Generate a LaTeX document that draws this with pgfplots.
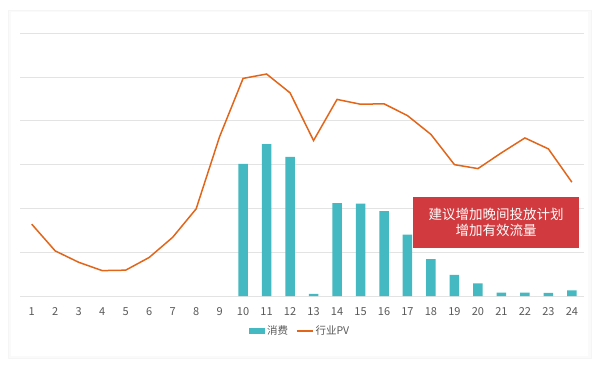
\documentclass[border=0pt]{standalone}
\usepackage{fontspec}
\setmainfont{Noto Sans CJK SC}
\usepackage{pgfplots}
\pgfplotsset{compat=1.18}
\definecolor{barcol}{HTML}{45B9C1}
\definecolor{linecol}{HTML}{E2661A}
\definecolor{gridcol}{HTML}{E3E3E3}
\definecolor{txtcol}{HTML}{595959}
\definecolor{boxcol}{HTML}{D13A3E}
\begin{document}
\begin{tikzpicture}[x=1bp,y=1bp]
\useasboundingbox (0,0) rectangle (600,368);
\fill[white] (0,0) rectangle (600,368);
\fill[black!4] (8,9) rectangle (592,358);
\fill[black!2] (9,10) rectangle (591,357);
\fill[white] (11,12) rectangle (588,356);
\begin{axis}[
  at={(20bp,72bp)}, anchor=south west,
  scale only axis, width=563.6bp, height=262.7bp,
  xmin=0.5, xmax=24.5, ymin=0, ymax=6,
  axis line style={draw=none},
  ytick={1,2,3,4,5,6}, ymajorgrids, yticklabels={},
  grid style={gridcol, line width=0.9bp},
  xtick={1,...,24}, tick style={draw=none},
  major tick length=0pt,
  /pgf/number format/assume math mode=true,
  xticklabel style={font=\fontsize{11bp}{12bp}\selectfont, text=txtcol, yshift=-8bp},
  clip=false,
  legend columns=2,
  legend style={at={(0.497,-0.133)}, anchor=center, draw=none, fill=none,
    font=\fontsize{10.5bp}{12bp}\selectfont, text=txtcol,
    /tikz/every even column/.append style={column sep=6bp},
    inner sep=0pt},
]
\draw[gridcol, line width=0.9bp] (axis cs:0.5,0) -- (axis cs:24.5,0);
\addplot[ybar, bar width=9.5bp, bar shift=0pt, fill=barcol, draw=none,
  legend image code/.code={\fill[barcol] (0bp,-3bp) rectangle (16bp,3bp);}]
coordinates {(10,3.02) (11,3.47) (12,3.18) (13,0.05) (14,2.12) (15,2.11) (16,1.94)
 (17,1.40) (18,0.84) (19,0.48) (20,0.29) (21,0.08) (22,0.08) (23,0.07) (24,0.13)};
\addlegendentry{消费}
\addplot[linecol, line width=1.5bp, mark=none,
  legend image code/.code={\draw[linecol, line width=1.5bp] (0bp,0bp) -- (16bp,0bp);}]
coordinates {(1,1.64) (2,1.03) (3,0.77) (4,0.58) (5,0.59) (6,0.88) (7,1.34) (8,1.99)
 (9,3.64) (10,4.97) (11,5.07) (12,4.64) (13,3.55) (14,4.49) (15,4.38) (16,4.39)
 (17,4.12) (18,3.69) (19,3.00) (20,2.91) (21,3.27) (22,3.61) (23,3.36) (24,2.60)};
\addlegendentry{行业PV}
\end{axis}
\fill[boxcol] (413,120) rectangle (579,171);
\node[text=white, align=center, font=\fontsize{13.5bp}{16bp}\selectfont] at (496,145.5) {建议增加晚间投放计划\\增加有效流量};
\end{tikzpicture}
\end{document}
